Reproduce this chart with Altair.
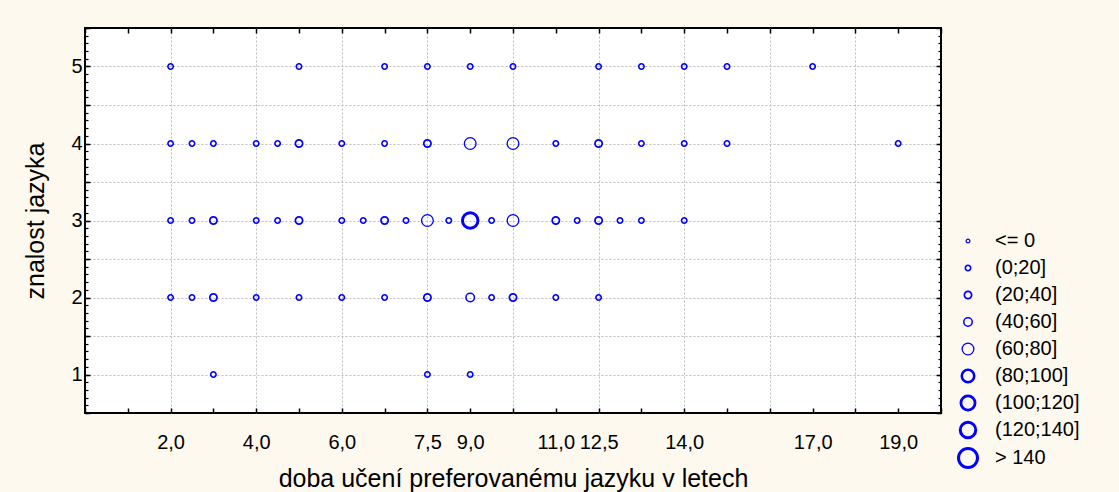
import altair as alt
import pandas as pd

# --- data -------------------------------------------------------------------
doba = [2, 5, 7, 8, 9, 10, 12, 13, 14, 15, 17,
        2, 2.5, 3, 4, 4.5, 5, 6, 7, 8, 9, 10, 11, 12, 13, 14, 15, 19,
        2, 2.5, 3, 4, 4.5, 5, 6, 6.5, 7, 7.5, 8, 8.5, 9, 9.5, 10, 11, 11.5, 12, 12.5, 13, 14,
        2, 2.5, 3, 4, 5, 6, 7, 8, 9, 9.5, 10, 11, 12,
        3, 8, 9]
znalost = [5] * 11 + [4] * 17 + [3] * 21 + [2] * 13 + [1] * 3
cetnost = (
    ["(0;20]"] * 11
    + ["(0;20]", "(0;20]", "(0;20]", "(0;20]", "(0;20]", "(20;40]", "(0;20]", "(0;20]", "(20;40]",
       "(60;80]", "(60;80]", "(0;20]", "(20;40]", "(0;20]", "(0;20]", "(0;20]", "(0;20]"]
    + ["(0;20]", "(0;20]", "(20;40]", "(0;20]", "(0;20]", "(20;40]", "(0;20]", "(0;20]", "(20;40]",
       "(0;20]", "(60;80]", "(0;20]", "(120;140]", "(0;20]", "(60;80]", "(20;40]", "(0;20]",
       "(20;40]", "(0;20]", "(0;20]", "(0;20]"]
    + ["(0;20]", "(0;20]", "(20;40]", "(0;20]", "(0;20]", "(0;20]", "(0;20]", "(20;40]",
       "(40;60]", "(0;20]", "(20;40]", "(0;20]", "(0;20]"]
    + ["(0;20]"] * 3
)

bins = ["<= 0", "(0;20]", "(20;40]", "(40;60]", "(60;80]", "(80;100]", "(100;120]", "(120;140]", "> 140"]
bin_sizes = [14, 29, 53, 72, 137, 154, 200, 240, 361]
bin_strokes = [1.2, 1.6, 1.7, 1.5, 1.3, 2.6, 2.8, 3.0, 3.0]

x_tick_values = [2, 4, 6, 8, 9, 11, 12, 14, 17, 19]
x_tick_labels = ["2,0", "4,0", "6,0", "7,5", "9,0", "11,0", "12,5", "14,0", "17,0", "19,0"]
y_tick_values = [1, 2, 3, 4, 5]

x_grid_values = [2, 4, 6, 8, 10, 12, 14, 16, 18]
y_grid_values = [1, 1.5, 2, 2.5, 3, 3.5, 4, 4.5, 5]
x_minor_values = list(range(0, 21))
y_major_values = [0.5, 1, 1.5, 2, 2.5, 3, 3.5, 4, 4.5, 5, 5.5]
y_minor_values = [round(0.5 + 0.1 * i, 1) for i in range(51)]

df = pd.DataFrame({"doba": doba, "znalost": znalost, "cetnost": cetnost})

W, H = 856, 385
FONT = "Liberation Sans"
xs = alt.Scale(domain=[0, 20], nice=False, zero=False)
ys = alt.Scale(domain=[0.5, 5.5], nice=False, zero=False)

base = alt.Chart(df)

label_expr = "{}[indexof({}, datum.value)]".format(
    "[" + ",".join("'%s'" % s for s in x_tick_labels) + "]",
    "[" + ",".join(str(v) for v in x_tick_values) + "]",
)


def blank(orient, **kw):
    opts = dict(orient=orient, labels=False, domain=False, grid=False, ticks=False, title=None)
    opts.update(kw)
    return alt.Axis(**opts)


def axis_layer(xaxis, yaxis, **enc):
    return base.mark_point(opacity=0).encode(
        x=alt.X("doba:Q", scale=xs, axis=xaxis, **enc.get("x", {})),
        y=alt.Y("znalost:Q", scale=ys, axis=yaxis, **enc.get("y", {})),
    )


# real labelled axes (drawn first)
labels = axis_layer(
    alt.Axis(
        orient="bottom", values=x_tick_values, labelExpr=label_expr, ticks=False, tickSize=0,
        domain=False, grid=False, labelPadding=19, labelFont=FONT, labelFontSize=20,
        labelColor="black", titleFont=FONT, titleFontSize=25, titleFontWeight="normal",
        titleColor="black", titlePadding=14,
    ),
    alt.Axis(
        orient="left", values=y_tick_values, format="d", ticks=False, tickSize=0,
        domain=False, grid=False, labelPadding=3, labelFont=FONT, labelFontSize=20,
        labelColor="black", titleFont=FONT, titleFontSize=25, titleFontWeight="normal",
        titleColor="black", titlePadding=22,
    ),
    x={"title": "doba učení preferovanému jazyku v letech"},
    y={"title": "znalost jazyka"},
)

grid = axis_layer(
    blank("bottom", values=x_grid_values, grid=True, gridColor="#bdbdbd", gridDash=[2, 2], gridWidth=1),
    blank("left", values=y_grid_values, grid=True, gridColor="#bdbdbd", gridDash=[2, 2], gridWidth=1),
)
top_ticks = axis_layer(
    blank("bottom", values=x_minor_values, ticks=True, tickSize=5, tickColor="black", tickWidth=1.5, offset=-H),
    None,
)
bottom_ticks = axis_layer(
    blank("top", values=x_minor_values, ticks=True, tickSize=5, tickColor="black", tickWidth=1.5, offset=-H),
    None,
)
left_major = axis_layer(
    None,
    blank("right", values=y_major_values, ticks=True, tickSize=5, tickColor="black", tickWidth=1.5, offset=-W),
)
left_minor = axis_layer(
    None,
    blank("right", values=y_minor_values, ticks=True, tickSize=3, tickColor="black", tickWidth=1.2, offset=-W),
)
right_major = axis_layer(
    None,
    blank("left", values=y_major_values, ticks=True, tickSize=5, tickColor="black", tickWidth=1.5, offset=-W),
)
right_minor = axis_layer(
    None,
    blank("left", values=y_minor_values, ticks=True, tickSize=3, tickColor="black", tickWidth=1.2, offset=-W),
)

legend = alt.Legend(
    title=None,
    orient="none",
    legendX=872,
    legendY=203,
    labelFont=FONT,
    labelFontSize=20,
    labelColor="black",
    labelOffset=16,
    rowPadding=-6.8,
    gridAlign="all",
)

points = base.mark_point(filled=False, color="#0000FF", shape="circle", opacity=1).encode(
    x=alt.X("doba:Q", scale=xs, axis=None),
    y=alt.Y("znalost:Q", scale=ys, axis=None),
    size=alt.Size("cetnost:O", scale=alt.Scale(type="ordinal", domain=bins, range=bin_sizes), legend=legend),
    strokeWidth=alt.StrokeWidth(
        "cetnost:O", scale=alt.Scale(type="ordinal", domain=bins, range=bin_strokes), legend=legend
    ),
)

chart = (
    alt.layer(labels, grid, top_ticks, bottom_ticks, left_major, left_minor, right_major, right_minor, points)
    .resolve_axis(x="independent", y="independent")
    .properties(
        width=W,
        height=H,
        autosize=alt.AutoSizeParams(type="none"),
        padding={"left": 85, "top": 28, "right": 178, "bottom": 79},
        background="#FEF9EE",
    )
    .configure_view(fill="white", stroke="black", strokeWidth=2)
)

chart.save("out.html", embed_options={"renderer": "svg", "actions": False})
